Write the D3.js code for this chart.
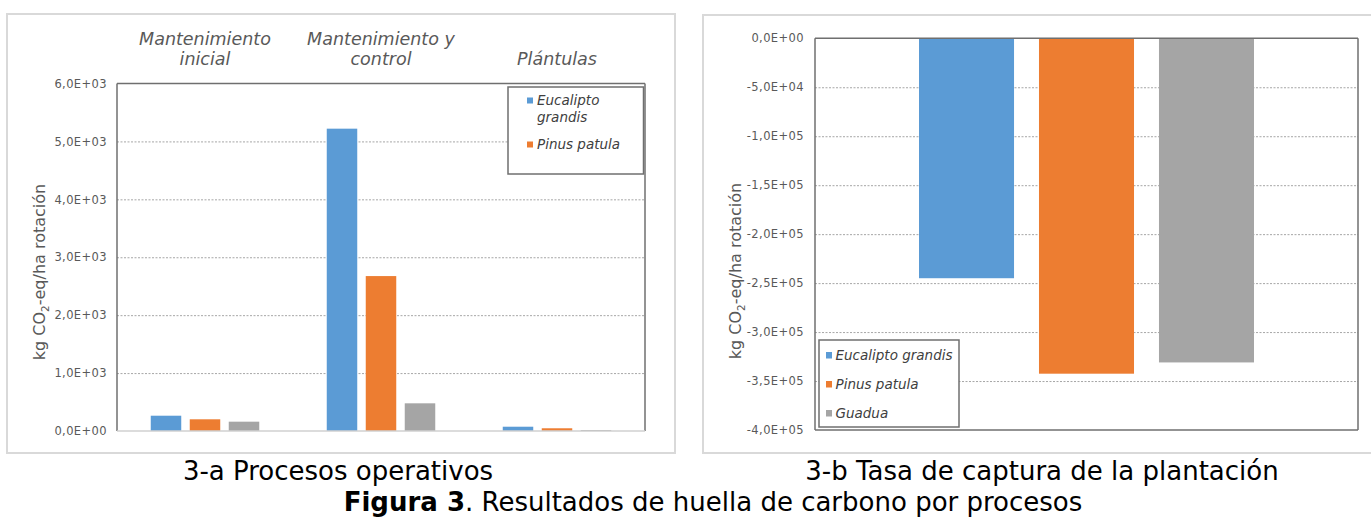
<!DOCTYPE html>
<html>
<head>
<meta charset="utf-8">
<script src="https://cdn.jsdelivr.net/npm/d3@7"></script>
<style>
  html, body { margin: 0; padding: 0; background: #fff; }
  svg { display: block; font-family: "DejaVu Sans", Verdana, sans-serif; }
</style>
</head>
<body>
<svg id="chart" width="1371" height="519"></svg>
<script>
// ---------- Data ----------
const seriesNames = ["Eucalipto grandis", "Pinus patula", "Guadua"];
const seriesColors = ["#5B9BD5", "#ED7D31", "#A5A5A5"];

// Panel 3-a: Procesos operativos
const catsA = ["Mantenimiento inicial", "Mantenimiento y control", "Plántulas"];
const catLinesA = [["Mantenimiento", "inicial"], ["Mantenimiento y", "control"], ["Plántulas"]];
const eucaliptoA = [264, 5220, 74];
const pinusA = [202, 2675, 47];
const guaduaA = [161, 478, 17];
const ticksA = [0, 1000, 2000, 3000, 4000, 5000, 6000];
const tickLabelsA = ["0,0E+00", "1,0E+03", "2,0E+03", "3,0E+03", "4,0E+03", "5,0E+03", "6,0E+03"];

// Panel 3-b: Tasa de captura de la plantación
const catsB = ["Tasa de captura"];
const eucaliptoB = [-245000];
const pinusB = [-342500];
const guaduaB = [-331000];
const ticksB = [0, -50000, -100000, -150000, -200000, -250000, -300000, -350000, -400000];
const tickLabelsB = ["0,0E+00", "-5,0E+04", "-1,0E+05", "-1,5E+05", "-2,0E+05", "-2,5E+05", "-3,0E+05", "-3,5E+05", "-4,0E+05"];

const yTitle = ["kg CO", "2", "-eq/ha rotación"];
const captionA = "3-a Procesos operativos";
const captionB = "3-b Tasa de captura de la plantación";
const figBold = "Figura 3";
const figRest = ". Resultados de huella de carbono por procesos";

// ---------- Drawing ----------
const svg = d3.select("#chart");

function panel(cfg) {
  const g = svg.append("g");
  // outer panel frame
  g.append("rect")
    .attr("x", cfg.frame[0]).attr("y", cfg.frame[1])
    .attr("width", cfg.frame[2]).attr("height", cfg.frame[3])
    .attr("fill", "#fff").attr("stroke", "#d9d9d9").attr("stroke-width", 2);

  const y = d3.scaleLinear().domain(cfg.yDomain).range([cfg.bottom, cfg.top]);
  const x0 = d3.scaleBand().domain(cfg.cats).range([cfg.left, cfg.right]).padding(0);
  const bw0 = x0.bandwidth();
  const off = (bw0 - cfg.clusterW) / 2;
  const x1 = d3.scaleBand().domain(seriesNames).range([off, bw0 - off])
    .paddingInner(cfg.innerPad).paddingOuter(0);

  // gridlines
  g.append("g").selectAll("line")
    .data(cfg.ticks.filter(t => t !== cfg.yDomain[0] && t !== cfg.yDomain[1] && t !== 0))
    .join("line")
    .attr("x1", cfg.left).attr("x2", cfg.right)
    .attr("y1", d => y(d) + 0.5).attr("y2", d => y(d) + 0.5)
    .attr("stroke", "#a6a6a6").attr("stroke-width", 1)
    .attr("stroke-dasharray", "2,1.5");

  // axis with labels
  const axis = d3.axisLeft(y).tickValues(cfg.ticks)
    .tickFormat((d, i) => cfg.tickLabels[i]).tickSize(0).tickPadding(cfg.tickPad);
  const ag = g.append("g").attr("transform", `translate(${cfg.left},0)`).call(axis);
  ag.select(".domain").remove();
  ag.selectAll("text")
    .attr("fill", "#595959").attr("font-size", "11.5px")
    .attr("letter-spacing", "0.4px")
    .attr("font-family", "'DejaVu Sans', Verdana, sans-serif");

  // bars
  const vals = cfg.values;
  const data = [];
  cfg.cats.forEach((c, ci) => seriesNames.forEach((s, si) => {
    data.push({ cat: c, s: s, si: si, v: vals[si][ci] });
  }));
  g.append("g").selectAll("rect")
    .data(data)
    .join("rect")
    .attr("x", d => x0(d.cat) + x1(d.s))
    .attr("width", x1.bandwidth())
    .attr("y", d => Math.min(y(0), y(d.v)))
    .attr("height", d => Math.abs(y(d.v) - y(0)))
    .attr("fill", d => seriesColors[d.si]);

  // plot border
  const bc = "#6f6f6f";
  const bwid = 1.5;
  g.append("line").attr("x1", cfg.left).attr("x2", cfg.right).attr("y1", cfg.top).attr("y2", cfg.top)
    .attr("stroke", bc).attr("stroke-width", bwid);
  g.append("line").attr("x1", cfg.left).attr("x2", cfg.left).attr("y1", cfg.top).attr("y2", cfg.bottom)
    .attr("stroke", bc).attr("stroke-width", bwid);
  g.append("line").attr("x1", cfg.right).attr("x2", cfg.right).attr("y1", cfg.top).attr("y2", cfg.bottom)
    .attr("stroke", bc).attr("stroke-width", bwid);
  g.append("line").attr("x1", cfg.left).attr("x2", cfg.right).attr("y1", cfg.bottom).attr("y2", cfg.bottom)
    .attr("stroke", cfg.bottomColor).attr("stroke-width", bwid);

  // y title
  const t = g.append("text")
    .attr("transform", `translate(${cfg.yTitleX},${cfg.yTitleY}) rotate(-90)`)
    .attr("text-anchor", "middle")
    .attr("font-size", "16px").attr("fill", "#595959");
  t.append("tspan").text(yTitle[0]);
  t.append("tspan").text(yTitle[1]).attr("font-size", "10.5px").attr("dy", 4);
  t.append("tspan").text(yTitle[2]).attr("dy", -4);

  return { g, x0, y };
}

// Panel A
const pa = panel({
  frame: [7, 14, 668, 439],
  left: 117, right: 645, top: 83.5, bottom: 431,
  yDomain: [0, 6000], ticks: ticksA, tickLabels: tickLabelsA, tickPad: 10,
  cats: catsA, clusterW: 108.5, innerPad: 0.218,
  values: [eucaliptoA, pinusA, guaduaA],
  bottomColor: "#d0d0d0",
  yTitleX: 45, yTitleY: 272
});

// category labels above panel A
catsA.forEach((c, i) => {
  const lines = catLinesA[i];
  const cx = pa.x0(c) + pa.x0.bandwidth() / 2;
  const txt = pa.g.append("text")
    .attr("text-anchor", "middle")
    .attr("font-size", "17.5px").attr("font-style", "italic")
    .attr("fill", "#595959");
  lines.forEach((ln, li) => {
    const base = 65 - (lines.length - 1 - li) * 20;
    txt.append("tspan").attr("x", cx).attr("y", base).text(ln);
  });
});

// legend A
{
  const lg = pa.g.append("g");
  lg.append("rect").attr("x", 508).attr("y", 87).attr("width", 135.5).attr("height", 87)
    .attr("fill", "#fff").attr("stroke", "#6f6f6f").attr("stroke-width", 1.5);
  const items = [
    { si: 0, lines: ["Eucalipto", "grandis"], sy: 97.5 },
    { si: 1, lines: ["Pinus patula"], sy: 141.5 }
  ];
  items.forEach(it => {
    lg.append("rect").attr("x", 527).attr("y", it.sy).attr("width", 6).attr("height", 6)
      .attr("fill", seriesColors[it.si]);
    const tx = lg.append("text").attr("font-size", "13.5px").attr("font-style", "italic")
      .attr("fill", "#404040");
    it.lines.forEach((ln, li) => {
      tx.append("tspan").attr("x", 537).attr("y", it.sy + 7.5 + li * 16.5).text(ln);
    });
  });
}

// Panel B
const pb = panel({
  frame: [703, 15, 680, 438],
  left: 815, right: 1358, top: 38.3, bottom: 430,
  yDomain: [-400000, 0], ticks: ticksB, tickLabels: tickLabelsB, tickPad: 11,
  cats: catsB, clusterW: 335, innerPad: 0.208,
  values: [eucaliptoB, pinusB, guaduaB],
  bottomColor: "#6f6f6f",
  yTitleX: 741, yTitleY: 271
});

// legend B
{
  const lg = pb.g.append("g");
  lg.append("rect").attr("x", 819).attr("y", 340).attr("width", 140).attr("height", 87)
    .attr("fill", "#fff").attr("stroke", "#6f6f6f").attr("stroke-width", 1.5);
  seriesNames.forEach((s, i) => {
    const sy = 352 + i * 29;
    lg.append("rect").attr("x", 826).attr("y", sy).attr("width", 6).attr("height", 6.5)
      .attr("fill", seriesColors[i]);
    lg.append("text").attr("x", 835.5).attr("y", sy + 7.5)
      .attr("font-size", "13.5px").attr("font-style", "italic").attr("fill", "#404040")
      .text(s);
  });
}

// captions
svg.append("text").attr("x", 338).attr("y", 480).attr("text-anchor", "middle")
  .attr("font-size", "26px").attr("fill", "#000").text(captionA);
svg.append("text").attr("x", 1042).attr("y", 480).attr("text-anchor", "middle")
  .attr("font-size", "26px").attr("fill", "#000").text(captionB);
const fig = svg.append("text").attr("x", 713).attr("y", 511).attr("text-anchor", "middle")
  .attr("font-size", "26px").attr("fill", "#000");
fig.append("tspan").attr("font-weight", "bold").text(figBold);
fig.append("tspan").text(figRest);
</script>
</body>
</html>
